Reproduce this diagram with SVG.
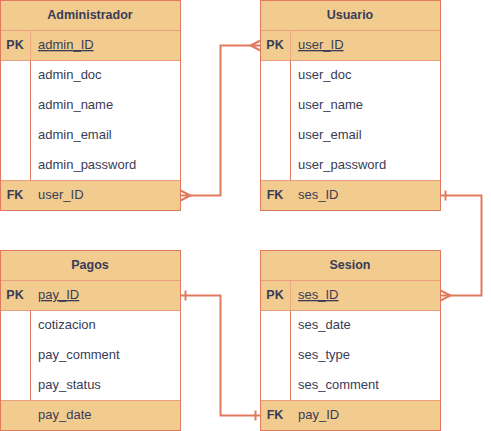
<svg xmlns="http://www.w3.org/2000/svg" width="491" height="431" viewBox="0 0 491 431">
<style>
.band{fill:#F2CC8F;}
.wh{fill:#FFFFFF;}
.box{fill:none;stroke:#E07A5F;stroke-width:1;}
.sep{stroke:#EC9F7F;stroke-width:1;fill:none;}
.div{stroke:#E07A5F;stroke-width:1;fill:none;}
.divl{stroke:#EDA985;stroke-width:1;fill:none;}
text{font-family:"Liberation Sans",Arial,sans-serif;fill:#393C56;font-size:13px;}
.h{font-weight:bold;font-size:12.5px;text-anchor:middle;}
.k{font-weight:bold;text-anchor:middle;font-size:12.5px;}
.pk{text-decoration:underline;}
.edge{fill:none;stroke:#E07A5F;stroke-width:2;}
</style>
<g id="Administrador">
<rect class="band" x="0.5" y="0.5" width="180" height="60"/>
<rect class="wh" x="0.5" y="60.5" width="180" height="120"/>
<rect class="band" x="0.5" y="180.5" width="180" height="30"/>
<line class="sep" x1="0.5" y1="30.5" x2="180.5" y2="30.5"/>
<line class="sep" x1="0.5" y1="60.5" x2="180.5" y2="60.5"/>
<line class="sep" x1="0.5" y1="180.5" x2="180.5" y2="180.5"/>
<line class="divl" x1="30.5" y1="30.5" x2="30.5" y2="60.5"/>
<line class="div" x1="30.5" y1="60.5" x2="30.5" y2="180.5"/>
<rect class="box" x="0.5" y="0.5" width="180" height="210"/>
<text class="h" x="90" y="19">Administrador</text>
<text class="k" x="15" y="49">PK</text>
<text class="pk" x="38" y="49">admin_ID</text>
<text x="38" y="79">admin_doc</text>
<text x="38" y="109">admin_name</text>
<text x="38" y="139">admin_email</text>
<text x="38" y="169">admin_password</text>
<text class="k" x="15" y="199">FK</text>
<text x="38" y="199">user_ID</text>
</g>
<g id="Usuario">
<rect class="band" x="260.5" y="0.5" width="180" height="60"/>
<rect class="wh" x="260.5" y="60.5" width="180" height="120"/>
<rect class="band" x="260.5" y="180.5" width="180" height="30"/>
<line class="sep" x1="260.5" y1="30.5" x2="440.5" y2="30.5"/>
<line class="sep" x1="260.5" y1="60.5" x2="440.5" y2="60.5"/>
<line class="sep" x1="260.5" y1="180.5" x2="440.5" y2="180.5"/>
<line class="divl" x1="290.5" y1="30.5" x2="290.5" y2="60.5"/>
<line class="div" x1="290.5" y1="60.5" x2="290.5" y2="180.5"/>
<rect class="box" x="260.5" y="0.5" width="180" height="210"/>
<text class="h" x="350" y="19">Usuario</text>
<text class="k" x="275" y="49">PK</text>
<text class="pk" x="298" y="49">user_ID</text>
<text x="298" y="79">user_doc</text>
<text x="298" y="109">user_name</text>
<text x="298" y="139">user_email</text>
<text x="298" y="169">user_password</text>
<text class="k" x="275" y="199">FK</text>
<text x="298" y="199">ses_ID</text>
</g>
<g id="Pagos">
<rect class="band" x="0.5" y="250.5" width="180" height="60"/>
<rect class="wh" x="0.5" y="310.5" width="180" height="90"/>
<rect class="band" x="0.5" y="400.5" width="180" height="30"/>
<line class="sep" x1="0.5" y1="280.5" x2="180.5" y2="280.5"/>
<line class="sep" x1="0.5" y1="310.5" x2="180.5" y2="310.5"/>
<line class="sep" x1="0.5" y1="400.5" x2="180.5" y2="400.5"/>
<line class="div" x1="30.5" y1="310.5" x2="30.5" y2="400.5"/>
<rect class="box" x="0.5" y="250.5" width="180" height="180"/>
<text class="h" x="90" y="269">Pagos</text>
<text class="k" x="15" y="299">PK</text>
<text class="pk" x="38" y="299">pay_ID</text>
<text x="38" y="329">cotizacion</text>
<text x="38" y="359">pay_comment</text>
<text x="38" y="389">pay_status</text>
<text x="38" y="419">pay_date</text>
</g>
<g id="Sesion">
<rect class="band" x="260.5" y="250.5" width="180" height="60"/>
<rect class="wh" x="260.5" y="310.5" width="180" height="90"/>
<rect class="band" x="260.5" y="400.5" width="180" height="30"/>
<line class="sep" x1="260.5" y1="280.5" x2="440.5" y2="280.5"/>
<line class="sep" x1="260.5" y1="310.5" x2="440.5" y2="310.5"/>
<line class="sep" x1="260.5" y1="400.5" x2="440.5" y2="400.5"/>
<line class="divl" x1="290.5" y1="280.5" x2="290.5" y2="310.5"/>
<line class="div" x1="290.5" y1="310.5" x2="290.5" y2="400.5"/>
<rect class="box" x="260.5" y="250.5" width="180" height="180"/>
<text class="h" x="350" y="269">Sesion</text>
<text class="k" x="275" y="299">PK</text>
<text class="pk" x="298" y="299">ses_ID</text>
<text x="298" y="329">ses_date</text>
<text x="298" y="359">ses_type</text>
<text x="298" y="389">ses_comment</text>
<text class="k" x="275" y="419">FK</text>
<text x="298" y="419">pay_ID</text>
</g>
<g id="connectors">
<path class="edge" d="M190.5 195.5 H220.5 V45.5 H250.5"/>
<path class="edge" d="M180.5 190.5 L190.5 195.5 L180.5 200.5 M180.5 195.5 H190.5"/>
<path class="edge" d="M260.5 40.5 L250.5 45.5 L260.5 50.5 M260.5 45.5 H250.5"/>
<path class="edge" d="M440.5 195.5 H481.5 V295.5 H440.5"/>
<path class="edge" d="M445.5 190.5 V200.5"/>
<path class="edge" d="M440.5 290.5 L450.5 295.5 L440.5 300.5"/>
<path class="edge" d="M180.5 295.5 H220.5 V415.5 H260.5"/>
<path class="edge" d="M185.5 290.5 V300.5"/>
<path class="edge" d="M255.5 410.5 V420.5"/>
</g>
</svg>
